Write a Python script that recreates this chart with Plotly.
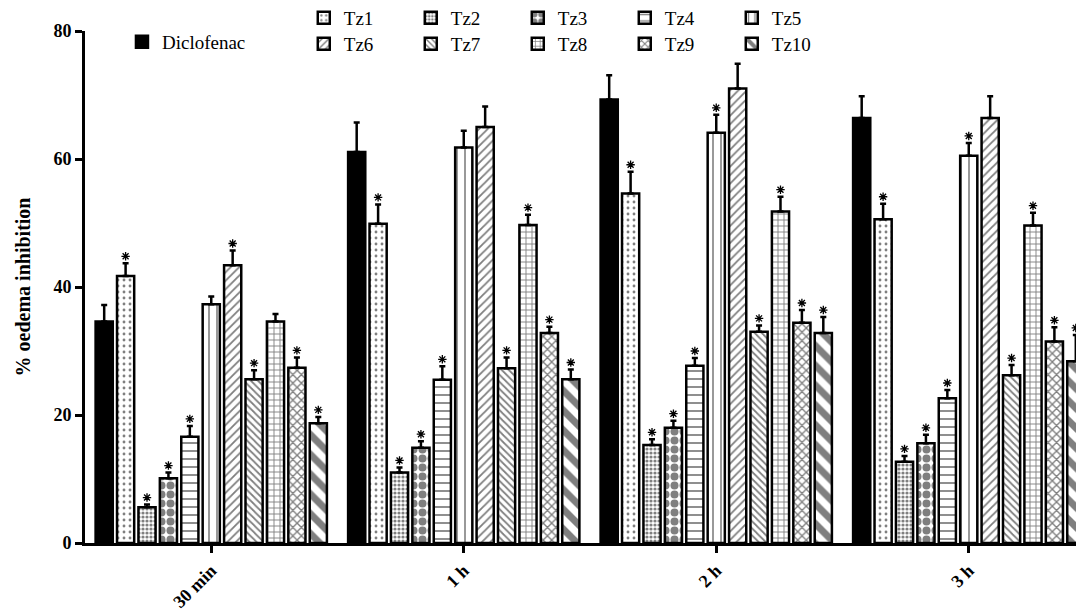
import numpy as np
import plotly.graph_objects as go

categories = ["30 min", "1 h", "2 h", "3 h"]
series = ["Diclofenac", "Tz1", "Tz2", "Tz3", "Tz4", "Tz5", "Tz6", "Tz7", "Tz8", "Tz9", "Tz10"]

diclofenac = [34.6, 61.1, 69.3, 66.4]
tz1 = [41.7, 49.9, 54.6, 50.6]
tz2 = [5.6, 11.0, 15.3, 12.7]
tz3 = [10.1, 14.9, 18.0, 15.6]
tz4 = [16.6, 25.5, 27.7, 22.6]
tz5 = [37.3, 61.8, 64.1, 60.5]
tz6 = [43.4, 65.0, 71.0, 66.4]
tz7 = [25.6, 27.3, 33.0, 26.2]
tz8 = [34.6, 49.7, 51.8, 49.6]
tz9 = [27.4, 32.8, 34.4, 31.5]
tz10 = [18.7, 25.6, 32.8, 28.4]

diclofenac_err = [2.6, 4.6, 3.8, 3.4]
tz1_err = [2.0, 3.0, 3.4, 2.4]
tz2_err = [0.4, 0.8, 0.9, 0.9]
tz3_err = [0.9, 1.0, 1.1, 1.3]
tz4_err = [1.7, 2.1, 1.2, 1.3]
tz5_err = [1.2, 2.6, 2.8, 2.0]
tz6_err = [2.3, 3.2, 3.9, 3.4]
tz7_err = [1.4, 1.7, 1.0, 1.6]
tz8_err = [1.2, 1.6, 2.3, 2.0]
tz9_err = [1.6, 1.0, 2.0, 2.2]
tz10_err = [1.0, 1.5, 2.5, 4.1]

# significance (*) flags per series, per time point
diclofenac_sig = [0, 0, 0, 0]
tz1_sig = [1, 1, 1, 1]
tz2_sig = [1, 1, 1, 1]
tz3_sig = [1, 1, 1, 1]
tz4_sig = [1, 1, 1, 1]
tz5_sig = [0, 0, 1, 1]
tz6_sig = [1, 0, 0, 0]
tz7_sig = [1, 1, 1, 1]
tz8_sig = [0, 1, 1, 1]
tz9_sig = [1, 1, 1, 1]
tz10_sig = [1, 1, 1, 1]

values = [diclofenac, tz1, tz2, tz3, tz4, tz5, tz6, tz7, tz8, tz9, tz10]
errors = [diclofenac_err, tz1_err, tz2_err, tz3_err, tz4_err, tz5_err,
          tz6_err, tz7_err, tz8_err, tz9_err, tz10_err]
sigs = [diclofenac_sig, tz1_sig, tz2_sig, tz3_sig, tz4_sig, tz5_sig,
        tz6_sig, tz7_sig, tz8_sig, tz9_sig, tz10_sig]

# pattern styles (shape, size, solidity); None = solid black
patterns = [
    None,
    (".", 6, 0.18),
    (".", 4, 0.5),
    (".", 9, 0.62),
    ("-", 8, 0.22),
    ("|", 8, 0.2),
    ("/", 6, 0.3),
    ("\\", 5, 0.35),
    ("+", 6, 0.28),
    ("x", 6, 0.4),
    ("\\", 14, 0.5),
]

legend_of = ["legend"] + ["legend2"] * 5 + ["legend3"] * 5

slot = 0.0848
bar_w = 0.068
star_gap = 1.1  # data units between error cap and asterisk
base = np.arange(len(categories))
serif = "Liberation Serif"

fig = go.Figure()
for k, name in enumerate(series):
    xs = base + (k - 5) * slot
    pat = patterns[k]
    if pat is None:
        marker = dict(color="black", line=dict(color="black", width=2.5))
    else:
        marker = dict(color="white", line=dict(color="black", width=2.5),
                      pattern=dict(shape=pat[0], size=pat[1], solidity=pat[2],
                                   fgcolor="black", bgcolor="white", fillmode="overlay"))
    fig.add_trace(go.Bar(
        x=xs, y=values[k], width=bar_w, name=name, marker=marker,
        legend=legend_of[k],
        error_y=dict(type="data", symmetric=False, array=errors[k],
                     arrayminus=[0] * len(categories),
                     color="black", thickness=2.5, width=3),
    ))
    sx = [x for x, s in zip(xs, sigs[k]) if s]
    sy = [v + e + star_gap for v, e, s in zip(values[k], errors[k], sigs[k]) if s]
    if sx:
        fig.add_trace(go.Scatter(
            x=sx, y=sy, mode="markers", showlegend=False, hoverinfo="skip",
            marker=dict(symbol="asterisk-open", size=7, color="black",
                        line=dict(color="black", width=1.3)),
        ))

legend_font = dict(family=serif, size=19, color="black")
# the page body adds an 8px margin, so the figure is 8px smaller than the window
fig.update_layout(
    template="none",
    width=1076, height=607,
    margin=dict(l=77, r=0, t=23, b=72, autoexpand=False),
    plot_bgcolor="white", paper_bgcolor="white",
    barmode="overlay",
    showlegend=True,
    legend=dict(x=0.037, y=0.9786, xanchor="left", yanchor="middle",
                orientation="h", font=legend_font, bgcolor="rgba(0,0,0,0)"),
    legend2=dict(x=0.219, y=1.0255, xanchor="left", yanchor="middle",
                 orientation="h", font=legend_font, entrywidth=62,
                 bgcolor="rgba(0,0,0,0)"),
    legend3=dict(x=0.219, y=0.9747, xanchor="left", yanchor="middle",
                 orientation="h", font=legend_font, entrywidth=62,
                 bgcolor="rgba(0,0,0,0)"),
    xaxis=dict(
        range=[-0.5, -0.5 + 999 / 252.5], automargin=False,
        tickmode="array", tickvals=base, ticktext=categories,
        tickangle=-45, ticks="outside", ticklen=7, tickwidth=2.5, tickcolor="black",
        showline=True, linecolor="black", linewidth=3,
        showgrid=False, zeroline=False,
        tickfont=dict(family=serif, size=18, color="black", weight="bold"),
    ),
    yaxis=dict(
        range=[0, 80], tickvals=[0, 20, 40, 60, 80], automargin=False,
        ticks="outside", ticklen=7, tickwidth=2.5, tickcolor="black",
        showline=True, linecolor="black", linewidth=3,
        showgrid=False, zeroline=False,
        tickfont=dict(family=serif, size=18, color="black", weight="bold"),
        title=dict(text="% oedema inhibition", standoff=18,
                   font=dict(family=serif, size=20, color="black", weight="bold")),
    ),
)

fig.write_html("out.html")
